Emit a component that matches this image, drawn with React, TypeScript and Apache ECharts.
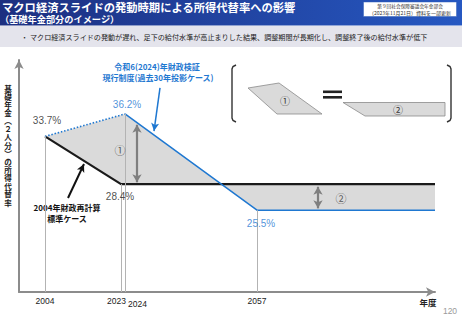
import React, { useEffect, useRef } from 'react';
import * as echarts from 'echarts';

// ---- data ----
const yearTicks = [2004, 2023, 2024, 2057];
const startYear = 1997.5;
const endYear = 2101.5;
const yMin = 16.4;
const yMax = 42.2;
// 2004年財政再計算 標準ケース (black)
const recalc2004 = [[2004, 33.7], [2023, 28.4], [endYear, 28.4]];
// 令和6(2024)年財政検証 過去30年投影ケース (blue)
const pastTrend = [[2004, 33.7], [2024, 36.2]];
const current2024 = [[2024, 36.2], [2057, 25.5], [endYear, 25.5]];
// labelled points
const labelPoints = [[2004, 33.7], [2024, 36.2], [2023, 28.4], [2057, 25.5]];
const labelColors = ['#222', '#1f78d1', '#222', '#1f78d1'];
const labelOffsets = [[2, -16], [2, -9], [-1, 12], [4, 13]];
// guide lines from axis to points
const guides = [[2004, 33.7], [2023, 28.4], [2024, 36.2], [2057, 25.5]];
// double arrows (① and ②)
const gapArrows = [[[2027, 35.0], [2027, 28.6]], [[2072.25, 28.1], [2072.25, 25.7]]];
const circled = [[2022.75, 32.2, '①'], [2078, 26.85, '②']];
const yTitle = '基礎年金︵２人分︶の所得代替率';

const JP = '"Noto Sans CJK JP", "Noto Sans", sans-serif';
const NUM = '"Liberation Sans", Arial, sans-serif';

export default function App() {
  const ref = useRef<HTMLDivElement>(null);
  useEffect(() => {
    if (!ref.current) return;
    const chart = echarts.init(ref.current, null, { renderer: 'svg' });
    const upper = [...pastTrend, ...current2024.slice(1)];
    const lower = [...recalc2004].reverse();
    const txt = (x: number, y: number, text: string, font: string, fill: string, align = 'left', valign = 'middle', extra: any = {}) => ({
      type: 'text', x, y, silent: true,
      style: { text, font, fill, align, verticalAlign: valign, textAlign: align, textVerticalAlign: valign, ...extra },
    });
    const option: any = {
      animation: false,
      grid: { left: 19, right: 27, top: 60, bottom: 28 },
      xAxis: {
        type: 'value', min: startYear, max: endYear,
        axisLine: { show: true, lineStyle: { color: '#8c8c8c', width: 2 }, symbol: ['none', 'arrow'], symbolSize: [7, 9] },
        axisTick: { show: false },
        splitLine: { show: false },
        axisLabel: {
          customValues: yearTicks,
          margin: 4,
          color: '#222',
          fontSize: 8.5,
          fontFamily: NUM,
          formatter: (v: number) => (v === 2024 ? `{c|${v}}` : v === 2023 ? `{b|${v}}` : `{a|${v}}`),
          rich: {
            a: { fontSize: 8.5, fontFamily: NUM, color: '#222' },
            b: { fontSize: 8.5, fontFamily: NUM, color: '#222', padding: [0, 9, 0, 0] },
            c: { fontSize: 8.5, fontFamily: NUM, color: '#222', padding: [3, 0, 0, 25] },
          },
        },
      },
      yAxis: {
        type: 'value', min: yMin, max: yMax,
        axisLine: { show: true, lineStyle: { color: '#8c8c8c', width: 2 }, symbol: ['none', 'arrow'], symbolSize: [7, 9] },
        axisTick: { show: false },
        axisLabel: { show: false },
        splitLine: { show: false },
      },
      series: [
        {
          type: 'custom', silent: true, clip: false, z: 1,
          data: [[2004, 33.7]],
          renderItem: (_p: any, api: any) => ({
            type: 'polygon',
            shape: { points: [...upper, ...lower].map((p) => api.coord(p)) },
            style: { fill: '#dadada', stroke: 'none' },
          }),
        },
        {
          type: 'line', silent: true, z: 2, data: [[2004, 33.7]], showSymbol: false, lineStyle: { opacity: 0 },
          markLine: {
            silent: true, symbol: ['none', 'none'], animation: false,
            label: { show: false },
            lineStyle: { color: '#b3b3b3', width: 1, type: 'solid' },
            data: guides.map((g) => [{ coord: [g[0], yMin] }, { coord: g }]),
          },
        },
        {
          type: 'line', data: recalc2004, z: 3, symbol: 'none', silent: true,
          lineStyle: { color: '#1a1a1a', width: 2.2, join: 'bevel' },
        },
        {
          type: 'line', data: pastTrend, z: 3, symbol: 'none', silent: true,
          lineStyle: { color: '#1f78d1', width: 1.6, type: [1.5, 1.8] },
        },
        {
          type: 'line', data: current2024, z: 4, symbol: 'none', silent: true,
          lineStyle: { color: '#1f78d1', width: 1.5 },
        },
        {
          type: 'line', silent: true, z: 5, data: [[2004, 33.7]], showSymbol: false, lineStyle: { opacity: 0 },
          markLine: {
            silent: true, symbol: ['arrow', 'arrow'], symbolSize: [7, 8], animation: false,
            label: { show: false },
            lineStyle: { color: '#7f7f7f', width: 2.2, type: 'solid' },
            data: gapArrows.map((a) => [{ coord: a[0] }, { coord: a[1] }]),
          },
        },
        {
          type: 'line', silent: true, z: 6, data: [[2004, 33.7]], showSymbol: false, lineStyle: { opacity: 0 },
          markLine: {
            silent: true, symbol: ['none', 'arrow'], symbolSize: [6, 8], animation: false,
            label: { show: false },
            data: [
              [{ coord: [2009.75, 26.85], lineStyle: { color: '#111', width: 2, type: 'solid' } }, { coord: [2013.75, 30.64] }],
              [{ coord: [2032.75, 39.09], lineStyle: { color: '#1f78d1', width: 1.5, type: 'solid' } }, { coord: [2031.25, 34.3] }],
            ],
          },
        },
        {
          type: 'scatter', silent: true, z: 7, symbolSize: 0,
          data: labelPoints.map((p, i) => ({
            value: p,
            label: { color: labelColors[i], offset: labelOffsets[i] },
          })),
          label: {
            show: true, position: 'inside', fontSize: 10, fontFamily: NUM,
            formatter: (p: any) => `${p.value[1].toFixed(1)}%`,
          },
        },
        {
          type: 'scatter', silent: true, z: 7, symbolSize: 0,
          data: circled.map((c) => ({ value: [c[0], c[1]], name: c[2] })),
          label: { show: true, position: 'inside', fontSize: 11, fontFamily: JP, color: '#333', formatter: '{b}' },
        },
      ],
      graphic: [
        {
          type: 'rect', shape: { x: 0, y: 0, width: 462, height: 25.5 }, silent: true,
          style: { fill: new echarts.graphic.LinearGradient(0, 0, 1, 0, [{ offset: 0, color: '#1c2f80' }, { offset: 1, color: '#2658c2' }]) },
        },
        { type: 'rect', shape: { x: 0, y: 26, width: 462, height: 21 }, silent: true, style: { fill: '#e4e4ec' } },
        txt(2, 7, 'マクロ経済スライドの発動時期による所得代替率への影響', `bold 11.3px ${JP}`, '#ffffff'),
        txt(0, 18.5, '（基礎年金部分のイメージ）', `bold 9.2px ${JP}`, '#ffffff'),
        { type: 'rect', shape: { x: 363.5, y: 2, width: 93, height: 14.5 }, silent: true, style: { fill: '#ffffff', stroke: '#2f5fb8', lineWidth: 0.5 } },
        txt(410, 6, '第９回社会保障審議会年金部会', `4.7px ${JP}`, '#333', 'center'),
        txt(410, 12.3, '（2023年11月21日）資料を一部更新', `5px ${JP}`, '#333', 'center'),
        txt(21, 37, '・', `7px ${JP}`, '#222'),
        txt(30, 37, 'マクロ経済スライドの発動が遅れ、足下の給付水準が高止まりした結果、調整期間が長期化し、調整終了後の給付水準が低下', `7.1px ${JP}`, '#222'),
        // y axis title (vertical, one glyph per row)
        ...yTitle.split('').map((ch, i) => txt(8, 88 + i * 8.15, ch, `bold 7.6px ${JP}`, '#222', 'center')),
        txt(428, 302, '年度', `bold 8.5px ${JP}`, '#222', 'center'),
        txt(450, 311, '120', `8.5px ${NUM}`, '#9a9a9a', 'center'),
        // annotation texts
        txt(157, 66, '令和6(2024)年財政検証', `bold 8px ${JP}`, '#1f78d1', 'center'),
        txt(158, 77, '現行制度(過去30年投影ケース)', `bold 8px ${JP}`, '#1f78d1', 'center'),
        txt(67, 207, '2004年財政再計算', `bold 8px ${JP}`, '#111', 'center'),
        txt(67, 218, '標準ケース', `bold 8px ${JP}`, '#111', 'center'),
        // legend box
        { type: 'polyline', silent: true, shape: { points: [[236, 65], [233, 66.5], [232, 69], [232, 118], [233, 120.5], [236, 122]] }, style: { stroke: '#333', lineWidth: 1.4, fill: 'none' } },
        { type: 'polyline', silent: true, shape: { points: [[447, 65], [450, 66.5], [451, 69], [451, 118], [450, 120.5], [447, 122]] }, style: { stroke: '#333', lineWidth: 1.4, fill: 'none' } },
        { type: 'polygon', silent: true, shape: { points: [[248, 88], [279, 83], [322, 114], [277, 114]] }, style: { fill: '#dadada', stroke: '#8a8a8a', lineWidth: 0.8 } },
        txt(285, 100, '①', `10px ${JP}`, '#333', 'center'),
        { type: 'rect', silent: true, shape: { x: 323, y: 90.5, width: 19, height: 2.6 }, style: { fill: '#222' } },
        { type: 'rect', silent: true, shape: { x: 323, y: 96, width: 19, height: 2.6 }, style: { fill: '#222' } },
        { type: 'polygon', silent: true, shape: { points: [[343, 102.5], [445, 102.5], [445, 116], [365, 116]] }, style: { fill: '#dadada', stroke: '#8a8a8a', lineWidth: 0.8 } },
        txt(398, 109.5, '②', `10px ${JP}`, '#333', 'center'),
      ],
    };
    chart.setOption(option);
    return () => chart.dispose();
  }, []);
  return <div ref={ref} style={{ position: 'absolute', left: 0, top: 0, width: 462, height: 320 }} />;
}
